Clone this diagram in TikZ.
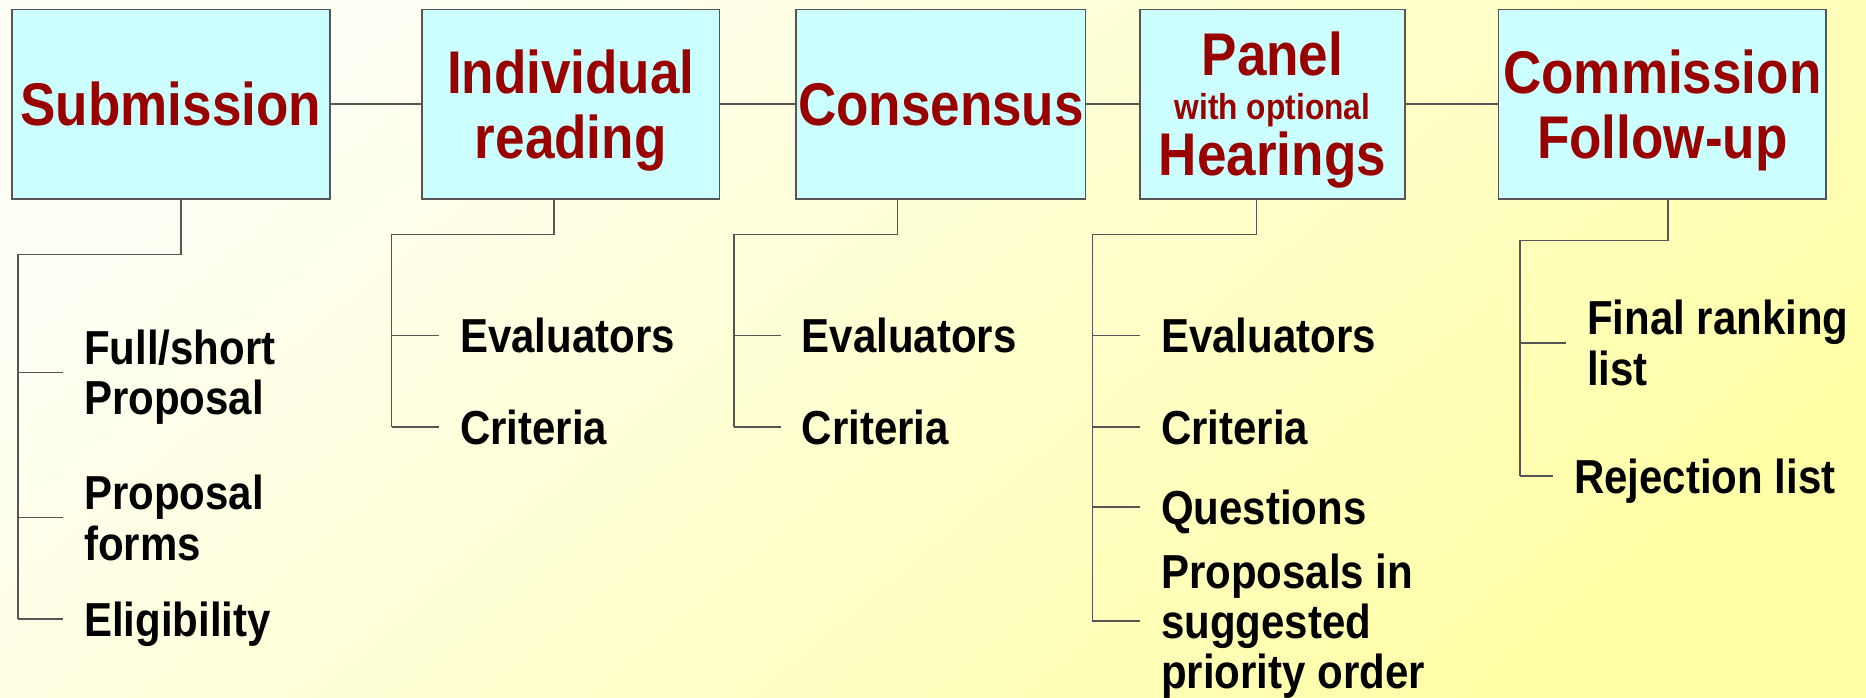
\documentclass[tikz,border=0pt]{standalone}
\usepackage{fontspec}
\setmainfont{Liberation Sans}[FakeStretch=0.88]
\usepackage{xcolor}
\usetikzlibrary{positioning,calc}

\definecolor{boxfill}{HTML}{CCFFFF}
\definecolor{titlered}{HTML}{990000}
\definecolor{edgegray}{HTML}{555555}
\definecolor{bgcream}{HTML}{FFFFF6}
\definecolor{bgyellow}{HTML}{FFFFA8}

\begin{document}
\begin{tikzpicture}[x=0.01cm,y=-0.01cm,
line width=0.4pt, draw=edgegray]

\tikzstyle{stage}=[rectangle, draw=edgegray, fill=boxfill, text=titlered,
align=center, inner sep=0pt, minimum height=1.59cm, text depth=0pt,
font=\fontsize{14.4}{15.4}\selectfont\bfseries]
\tikzstyle{leaf}=[anchor=west, align=left, inner xsep=0.17cm, inner ysep=0pt,
text depth=0pt, font=\fontsize{11.4}{12}\selectfont\bfseries]

% background
\useasboundingbox (0,0) rectangle (1568,586);
\shade[top color=bgcream, bottom color=bgyellow, shading angle=40]
(0,0) rectangle (1568,586);

% stages
\node[stage, minimum width=2.67cm] (sub) at (143.5,87.5) {Submission};
\node[stage, minimum width=2.50cm, right=0.76cm of sub] (ind)
{Individual\\reading};
\node[stage, minimum width=2.43cm, right=0.63cm of ind] (con)
{Consensus};
\node[stage, minimum width=2.23cm, right=0.44cm of con] (pan)
{Panel\\[-4.9pt]{\fontsize{8.6}{9}\selectfont with optional}\\[-2pt]Hearings};
\node[stage, minimum width=2.75cm, right=0.77cm of pan] (com)
{Commission\\Follow-up};

\path (sub) edge (ind);
\path (ind) edge (con);
\path (con) edge (pan);
\path (pan) edge (com);

% submission
\node[leaf] (s1) at (53,313) {Full/short\\Proposal};
\node[leaf] (s2) at (53,435) {Proposal\\forms};
\node[leaf] (s3) at (53,520) {Eligibility};
\coordinate (sk) at (15,214);
\draw ([xshift=0.085cm]sub.south) |- (sk) -- (sk |- s3.west);
\foreach \n in {s1,s2,s3}
\draw (sk |- \n.west) -- (\n.west);

% individual reading
\node[leaf] (i1) at (369,282) {Evaluators};
\node[leaf] (i2) at (369,359) {Criteria};
\coordinate (ik) at (329,197);
\draw ([xshift=-0.14cm]ind.south) |- (ik) -- (ik |- i2.west);
\foreach \n in {i1,i2}
\draw (ik |- \n.west) -- (\n.west);

% consensus
\node[leaf] (c1) at (656,282) {Evaluators};
\node[leaf] (c2) at (656,359) {Criteria};
\coordinate (ck) at (617,197);
\draw ([xshift=-0.365cm]con.south) |- (ck) -- (ck |- c2.west);
\foreach \n in {c1,c2}
\draw (ck |- \n.west) -- (\n.west);

% panel
\node[leaf] (p1) at (958,282) {Evaluators};
\node[leaf] (p2) at (958,359) {Criteria};
\node[leaf] (p3) at (958,426) {Questions};
\node[leaf] (p4) at (958,522) {Proposals in\\suggested\\priority order};
\coordinate (pk) at (918,197);
\draw ([xshift=-0.135cm]pan.south) |- (pk) -- (pk |- p4.west);
\foreach \n in {p1,p2,p3,p4}
\draw (pk |- \n.west) -- (\n.west);

% commission
\node[leaf] (f1) at (1316,288) {Final ranking\\list};
\node[leaf] (f2) at (1305,400) {Rejection list};
\coordinate (fk) at (1277,202);
\draw ([xshift=0.045cm]com.south) |- (fk) -- (fk |- f2.west);
\foreach \n in {f1,f2}
\draw (fk |- \n.west) -- (\n.west);

\end{tikzpicture}
\end{document}
